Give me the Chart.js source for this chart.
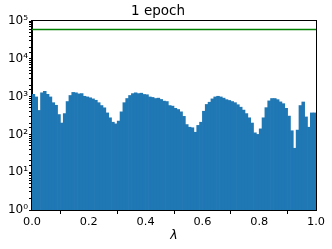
<!DOCTYPE html>
<html>
<head>
<meta charset="utf-8">
<script src="https://cdn.jsdelivr.net/npm/chart.js@4.4.1/dist/chart.umd.min.js"></script>
<style>
    html, body { margin: 0; padding: 0; background: #fff; }
    canvas { display: block; }
</style>
</head>
<body>
<canvas id="histChart" width="332" height="249"></canvas>
<script>
// Histogram counts, one per bin of width 0.01 on [0, 1]
const binCounts = [
    1150, 980, 430, 1260, 1380, 1150, 980, 690, 590, 335,
    200, 355, 740, 1070, 1290, 1260, 1180, 1200, 1020, 980,
    930, 870, 800, 690, 580, 505, 370, 275, 210, 190,
    225, 395, 690, 890, 1070, 1200, 1260, 1200, 1230, 1140,
    1120, 980, 950, 890, 910, 840, 760, 740, 580, 560,
    490, 455, 395, 300, 182, 155, 150, 114, 173, 210,
    410, 620, 710, 870, 980, 1020, 980, 910, 830, 790,
    740, 690, 610, 525, 440, 355, 275, 200, 110, 100,
    140, 275, 510, 770, 890, 890, 830, 725, 650, 490,
    305, 125, 43, 130, 580, 720, 290, 155, 370, 370
];
const BIN_WIDTH = 0.01;

// Reference level (total number of samples)
const totalLine = [60000, 60000];
const totalLineX = [0, 1];

const xTicks = [0, 0.2, 0.4, 0.6, 0.8, 1.0];
const yPowers = [0, 1, 2, 3, 4, 5];

const SUPERS = '⁰¹²³⁴⁵⁶⁷⁸⁹';

// Function to format 10^n with superscript digits
function powerLabel(value) {
    const p = Math.round(Math.log10(value));
    if (Math.abs(Math.pow(10, p) - value) > 1e-9 * value || !yPowers.includes(p)) {
        return '';
    }
    return '10' + String(p).split('').map(d => SUPERS[+d]).join('');
}

// Plugin to draw the full frame around the plot area
const frameBox = {
    id: 'frameBox',
    afterDraw(chart) {
        const a = chart.chartArea;
        const ctx = chart.ctx;
        ctx.save();
        ctx.strokeStyle = '#000';
        ctx.lineWidth = 1;
        ctx.strokeRect(Math.round(a.left) - 0.5, Math.round(a.top) - 0.5,
            Math.round(a.right - a.left) + 1, Math.round(a.bottom - a.top) + 1);
        ctx.restore();
    }
};

function initializeChart() {
    const ctx = document.getElementById('histChart').getContext('2d');

    const barData = binCounts.map((c, i) => ({ x: (i + 0.5) * BIN_WIDTH, y: c }));
    const lineData = totalLineX.map((x, i) => ({ x: x, y: totalLine[i] }));

    new Chart(ctx, {
        data: {
            datasets: [
                {
                    type: 'line',
                    data: lineData,
                    borderColor: '#008000',
                    borderWidth: 1.5,
                    pointRadius: 0,
                    order: 0
                },
                {
                    type: 'bar',
                    data: barData,
                    backgroundColor: '#1f77b4',
                    borderWidth: 0,
                    barPercentage: 1,
                    categoryPercentage: 1,
                    grouped: false,
                    order: 1
                }
            ]
        },
        options: {
            responsive: false,
            animation: false,
            devicePixelRatio: 1,
            layout: { padding: { left: 0, right: 16, top: 0, bottom: 0 } },
            plugins: {
                legend: { display: false },
                tooltip: { enabled: false },
                title: {
                    display: true,
                    text: '1 epoch',
                    color: '#000',
                    font: { family: 'DejaVu Sans', size: 13.5, weight: 'normal', lineHeight: 1.2 },
                    padding: { top: 3, bottom: 1.8 }
                }
            },
            scales: {
                x: {
                    type: 'linear',
                    min: 0,
                    max: 1,
                    offset: false,
                    grid: { drawOnChartArea: false, drawTicks: true, tickLength: 4, color: '#000' },
                    border: { display: true, color: '#000' },
                    afterBuildTicks: scale => {
                        scale.ticks = xTicks.map(v => ({ value: v }));
                    },
                    ticks: {
                        color: '#000',
                        padding: 1,
                        maxRotation: 0,
                        autoSkip: false,
                        font: { family: 'DejaVu Sans', size: 11.3 },
                        callback: v => v.toFixed(1)
                    },
                    title: {
                        display: true,
                        text: 'λ',
                        color: '#000',
                        padding: { top: 0, bottom: 6 },
                        font: { family: 'DejaVu Sans', size: 12.5, style: 'italic' }
                    },
                    afterFit: scale => { scale.height = 39; }
                },
                y: {
                    type: 'logarithmic',
                    min: 1,
                    max: 100000,
                    grid: { drawOnChartArea: false, drawTicks: true, tickLength: 3, color: '#000' },
                    border: { display: true, color: '#000' },
                    ticks: {
                        color: '#000',
                        padding: 1,
                        autoSkip: false,
                        font: { family: 'DejaVu Sans', size: 12 },
                        callback: v => powerLabel(v)
                    },
                    afterFit: scale => { scale.width = 32; }
                }
            }
        },
        plugins: [frameBox]
    });
}

document.addEventListener('DOMContentLoaded', initializeChart);
</script>
</body>
</html>
